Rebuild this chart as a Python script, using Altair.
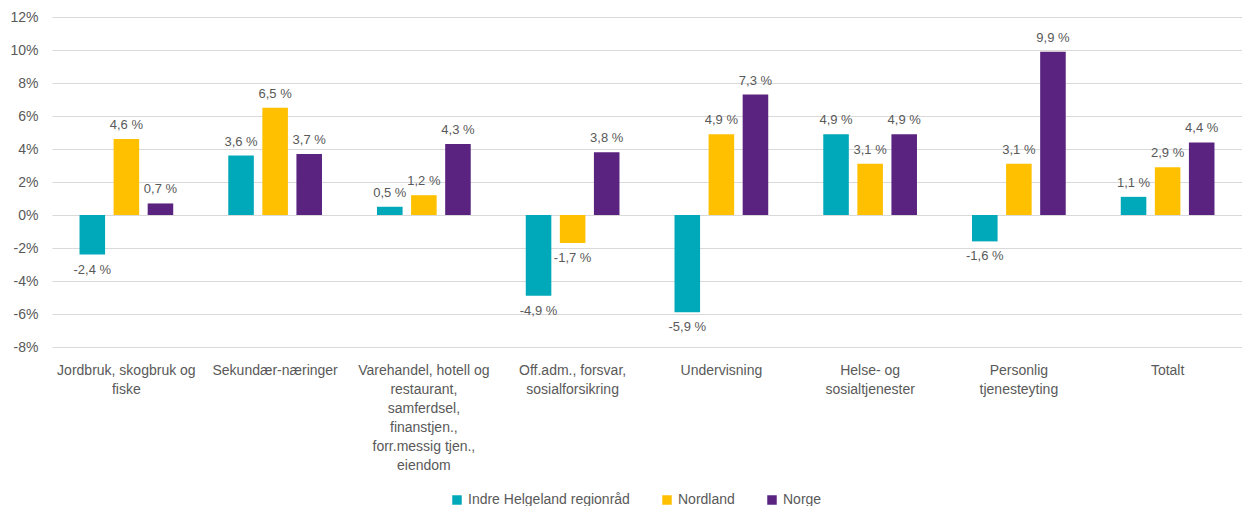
import altair as alt
import pandas as pd

categories = [
    "Jordbruk, skogbruk og fiske",
    "Sekundær-næringer",
    "Varehandel, hotell og restaurant, samferdsel, finanstjen., forr.messig tjen., eiendom",
    "Off.adm., forsvar, sosialforsikring",
    "Undervisning",
    "Helse- og sosialtjenester",
    "Personlig tjenesteyting",
    "Totalt",
]
label_lines = [
    ["Jordbruk, skogbruk og", "fiske"],
    ["Sekundær-næringer"],
    ["Varehandel, hotell og", "restaurant,", "samferdsel,", "finanstjen.,", "forr.messig tjen.,", "eiendom"],
    ["Off.adm., forsvar,", "sosialforsikring"],
    ["Undervisning"],
    ["Helse- og", "sosialtjenester"],
    ["Personlig", "tjenesteyting"],
    ["Totalt"],
]
series = ["Indre Helgeland regionråd", "Nordland", "Norge"]
colors = ["#00A9B9", "#FFC000", "#5B2380"]
indre = [-2.4, 3.6, 0.5, -4.9, -5.9, 4.9, -1.6, 1.1]
nordland = [4.6, 6.5, 1.2, -1.7, 4.9, 3.1, 3.1, 2.9]
norge = [0.7, 3.7, 4.3, 3.8, 7.3, 4.9, 9.9, 4.4]
y_ticks = [-8, -6, -4, -2, 0, 2, 4, 6, 8, 10, 12]

rows = []
for s, vals in zip(series, [indre, nordland, norge]):
    for c, v in zip(categories, vals):
        rows.append({"cat": c, "series": s, "value": v})
df = pd.DataFrame(rows)

def js_str(s):
    return "'" + s.replace("'", "\\'") + "'"

expr = "datum.value"
for c, lines in reversed(list(zip(categories, label_lines))):
    arr = "[" + ",".join(js_str(l) for l in lines) + "]"
    expr = f"datum.value == {js_str(c)} ? {arr} : ({expr})"

FONT = "Liberation Sans"
TXT = "#595959"

x = alt.X(
    "cat:N", sort=categories, title=None,
    scale=alt.Scale(paddingInner=0.37, paddingOuter=0.185),
    axis=alt.Axis(labelExpr=expr, labelAngle=0, domain=False, ticks=False,
                  labelPadding=16, labelFontSize=14, labelColor=TXT, labelFont=FONT,
                  labelLineHeight=19, labelLimit=200, grid=False, labelOverlap=False),
)
y = alt.Y(
    "value:Q", title=None,
    scale=alt.Scale(domain=[-8, 12], nice=False),
    axis=alt.Axis(values=y_ticks, labelExpr="datum.value + '%'", domain=False, ticks=False,
                  labelPadding=14, labelFontSize=14, labelColor=TXT, labelFont=FONT,
                  gridColor="#d9d9d9", gridWidth=1, labelOverlap=False),
)
xoff = alt.XOffset("series:N", sort=series,
                   scale=alt.Scale(paddingInner=0.25, paddingOuter=0))
color = alt.Color(
    "series:N", sort=series,
    scale=alt.Scale(domain=series, range=colors),
    legend=alt.Legend(title=None, orient="none", direction="horizontal",
                      legendX=398, legendY=476, symbolType="square", symbolSize=90,
                      symbolStrokeWidth=0, labelFontSize=14, labelColor=TXT, labelFont=FONT,
                      columnPadding=30, labelLimit=300),
)

base = alt.Chart(df).encode(x=x, xOffset=xoff, y=y)
bars = base.mark_bar().encode(color=color)

lab = base.transform_calculate(
    lab="(datum.value < 0 ? '-' : '') + replace(format(abs(datum.value), '.1f'), '.', ',') + ' %'"
)
pos = lab.transform_filter("datum.value >= 0").mark_text(
    baseline="bottom", dy=-7, fontSize=13, color=TXT, font=FONT
).encode(text="lab:N")
neg = lab.transform_filter("datum.value < 0").mark_text(
    baseline="top", dy=9, fontSize=13, color=TXT, font=FONT
).encode(text="lab:N")

chart = (
    alt.layer(bars, pos, neg)
    .properties(width=1190, height=330,
                autosize=alt.AutoSizeParams(type="none"),
                padding={"left": 44, "top": 9, "right": 0, "bottom": 159})
    .configure_view(stroke=None)
)

chart.save("out.html", embed_options={"renderer": "svg", "actions": False})
